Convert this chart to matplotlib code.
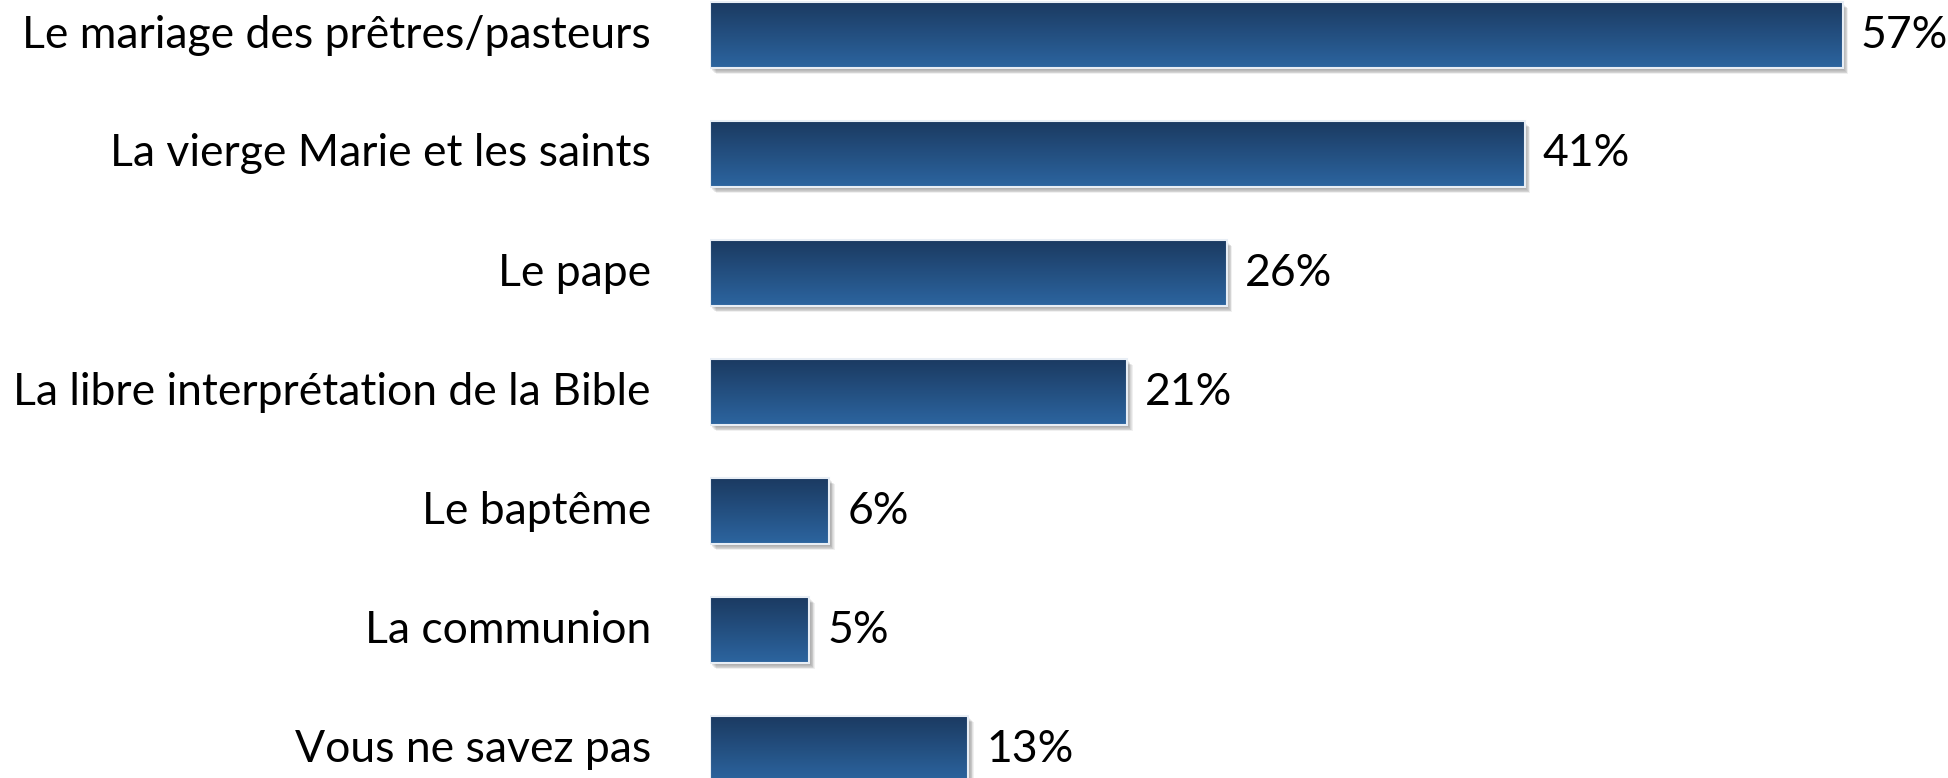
import numpy as np
import matplotlib
matplotlib.use("Agg")
import matplotlib.pyplot as plt
from matplotlib.patches import Rectangle
from matplotlib.colors import LinearSegmentedColormap
import matplotlib.transforms as mtransforms

categories = [
    "Le mariage des prêtres/pasteurs",
    "La vierge Marie et les saints",
    "Le pape",
    "La libre interprétation de la Bible",
    "Le baptême",
    "La communion",
    "Vous ne savez pas",
]
values = [57, 41, 26, 21, 6, 5, 13]
value_labels = ["57%", "41%", "26%", "21%", "6%", "5%", "13%"]

plt.rcParams['font.family'] = ['Lato', 'DejaVu Sans']

W, H, DPI = 1948, 778, 100
fig = plt.figure(figsize=(W / DPI, H / DPI), dpi=DPI)
ax_left = 710 / W
ax = fig.add_axes([ax_left, 0, 1 - ax_left, 1])
px_per_unit = 19.87
pitch = 119.0
c0 = 35.0
ax.axis('off')

bar_h = 66 / pitch
cmap = LinearSegmentedColormap.from_list('g', ['#1b3a61', '#2c65a0'])
grad = np.linspace(0, 1, 256).reshape(-1, 1)

for i, v in enumerate(values):
    y0 = i - bar_h / 2
    # soft drop shadow
    for k in range(1, 8):
        off = mtransforms.ScaledTranslation(k * 0.8 / DPI, -k * 0.9 / DPI, fig.dpi_scale_trans)
        sh = Rectangle((0, y0), v, bar_h, facecolor='#000000', alpha=0.06,
                       edgecolor='none', transform=ax.transData + off, zorder=1)
        ax.add_patch(sh)
    rect = Rectangle((0, y0), v, bar_h, facecolor='none', edgecolor='none', zorder=2)
    ax.add_patch(rect)
    im = ax.imshow(grad, cmap=cmap, aspect='auto', extent=(0, v, i + bar_h / 2, y0),
                   origin='upper', zorder=2, interpolation='bilinear')
    im.set_clip_path(rect)
    border = Rectangle((0, y0), v, bar_h, facecolor='none', edgecolor='#e8eef5',
                       linewidth=1.5, zorder=3)
    ax.add_patch(border)
    ax.annotate(value_labels[i], xy=(v, i), xytext=(13, 0), textcoords='offset points',
                ha='left', va='center', fontsize=32, color='#000000', zorder=4)
    ax.annotate(categories[i], xy=(0, i), xytext=(-42.5, 0), textcoords='offset points',
                ha='right', va='center', fontsize=32, color='#000000', zorder=4,
                annotation_clip=False)

ax.set_xlim(0, (W - 710) / px_per_unit)
ax.set_ylim((H - c0) / pitch, -c0 / pitch)
fig.savefig('out.png', dpi=DPI)
